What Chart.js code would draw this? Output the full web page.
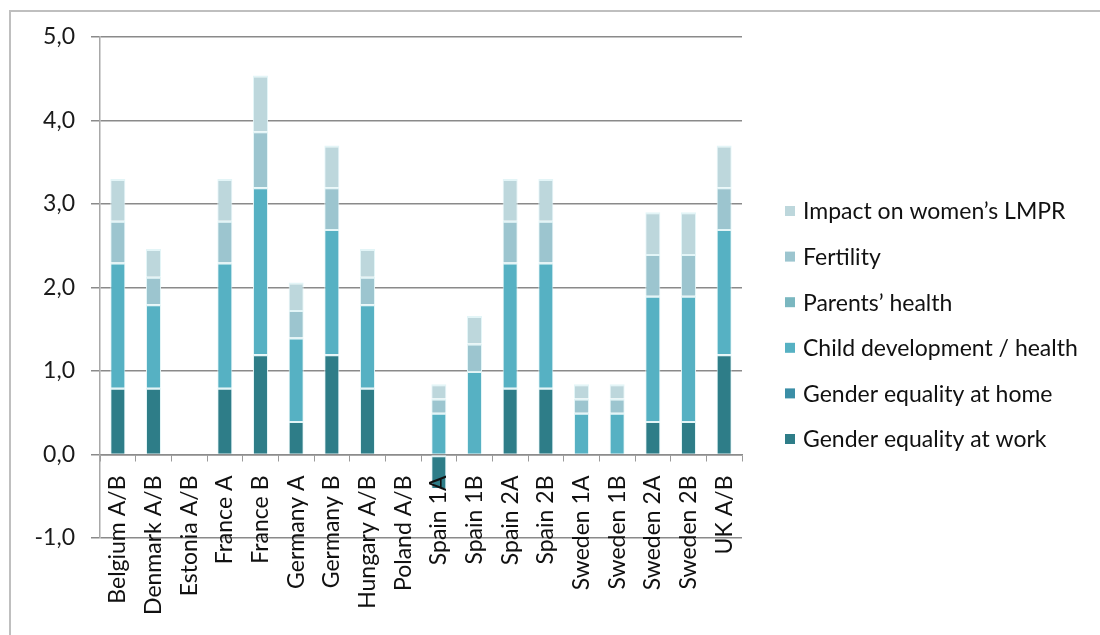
<!DOCTYPE html>
<html>
<head>
<meta charset="utf-8">
<style>
  html, body { margin: 0; padding: 0; background: #ffffff; }
  #wrap { position: relative; width: 1100px; height: 635px; }
  canvas { display: block; }
</style>
<script src="https://cdn.jsdelivr.net/npm/chart.js@4/dist/chart.umd.min.js"></script>
</head>
<body>
<div id="wrap"><canvas id="c" width="1100" height="635"></canvas></div>
<script>
// Countries / scenarios on the x axis
const categories = ['Belgium A/B', 'Denmark A/B', 'Estonia A/B', 'France A', 'France B',
  'Germany A', 'Germany B', 'Hungary A/B', 'Poland A/B', 'Spain 1A', 'Spain 1B',
  'Spain 2A', 'Spain 2B', 'Sweden 1A', 'Sweden 1B', 'Sweden 2A', 'Sweden 2B', 'UK A/B'];

// Score contributions, stacked from the bottom
const genderWork   = [0.8, 0.8, 0, 0.8, 1.2, 0.4, 1.2, 0.8, 0, -0.4, 0, 0.8, 0.8, 0, 0, 0.4, 0.4, 1.2];
const genderHome   = [0, 0, 0, 0, 0, 0, 0, 0, 0, 0, 0, 0, 0, 0, 0, 0, 0, 0];
const childDev     = [1.5, 1.0, 0, 1.5, 2.0, 1.0, 1.5, 1.0, 0, 0.5, 1.0, 1.5, 1.5, 0.5, 0.5, 1.5, 1.5, 1.5];
const parentsHealth = [0, 0, 0, 0, 0, 0, 0, 0, 0, 0, 0, 0, 0, 0, 0, 0, 0, 0];
const fertility    = [0.5, 0.33, 0, 0.5, 0.67, 0.33, 0.5, 0.33, 0, 0.17, 0.33, 0.5, 0.5, 0.17, 0.17, 0.5, 0.5, 0.5];
const impactLMPR   = [0.5, 0.33, 0, 0.5, 0.67, 0.33, 0.5, 0.33, 0, 0.17, 0.33, 0.5, 0.5, 0.17, 0.17, 0.5, 0.5, 0.5];

const seriesNames = ['Gender equality at work', 'Gender equality at home', 'Child development / health',
  'Parents\u2019 health', 'Fertility', 'Impact on women\u2019s LMPR'];
const seriesValues = [genderWork, genderHome, childDev, parentsHealth, fertility, impactLMPR];
const seriesColors = ['#2e7d88', '#3b8ea6', '#56b1c3', '#7ab7c0', '#9cc5cf', '#bdd7dc'];

// Y axis range
const yMin = -1, yMax = 5, yStep = 1;

const FONT = 'Lato, "Open Sans", sans-serif';

const datasets = seriesValues.map((vals, i) => ({
  label: seriesNames[i],
  data: vals,
  backgroundColor: seriesColors[i],
  borderColor: 'rgba(226,244,247,0.95)',
  borderWidth: { top: 2, left: 1, right: 1, bottom: 0 },
  borderSkipped: false,
  barPercentage: 0.42,
  categoryPercentage: 1.0
}));

// Outer frame around the whole chart
const framePlugin = {
  id: 'frame',
  beforeDraw(chart) {
    const ctx = chart.ctx;
    ctx.save();
    ctx.strokeStyle = '#bfbfbf';
    ctx.lineWidth = 2;
    ctx.strokeRect(10, 11, 1200, 700);
    ctx.restore();
  }
};

// Legend on the right, top series listed first
const sideLegend = {
  id: 'sideLegend',
  afterDraw(chart) {
    const ctx = chart.ctx;
    const ds = chart.data.datasets;
    ctx.save();
    ctx.font = '23px ' + FONT;
    ctx.textBaseline = 'middle';
    ctx.textAlign = 'left';
    const x0 = 785, y0 = 211, gap = 45.6;
    for (let k = 0; k < ds.length; k++) {
      const d = ds[ds.length - 1 - k];
      const y = y0 + k * gap;
      ctx.fillStyle = d.backgroundColor;
      ctx.fillRect(x0, y - 5, 10, 10);
      ctx.fillStyle = '#111';
      ctx.fillText(d.label, x0 + 18, y + 1);
    }
    ctx.restore();
  }
};

new Chart(document.getElementById('c'), {
  type: 'bar',
  data: { labels: categories, datasets },
  plugins: [framePlugin, sideLegend],
  options: {
    responsive: false,
    animation: false,
    devicePixelRatio: 1,
    layout: { padding: { left: 0, top: 37, right: 358, bottom: 97 } },
    plugins: { legend: { display: false }, tooltip: { enabled: false } },
    scales: {
      x: {
        stacked: true,
        position: { y: 0 },
        grid: { drawOnChartArea: false, drawTicks: true, tickLength: 6, color: '#9a9a9a', offset: true },
        border: { display: true, color: '#8c8c8c', width: 1.5 },
        ticks: {
          z: 1,
          autoSkip: false, minRotation: 90, maxRotation: 90, padding: 15,
          color: '#111', font: { family: FONT, size: 23 }
        }
      },
      y: {
        stacked: true,
        min: yMin, max: yMax,
        afterFit(scale) { scale.width = 100; },
        ticks: {
          stepSize: yStep, padding: 16, color: '#1a1a1a',
          font: { family: FONT, size: 23 },
          callback: v => v.toFixed(1).replace('.', ',')
        },
        grid: { color: '#8a8a8a', lineWidth: 1.5, tickLength: 9, drawTicks: true },
        border: { display: true, color: '#a8a8a8', width: 1.5 }
      }
    }
  }
});
</script>
</body>
</html>
